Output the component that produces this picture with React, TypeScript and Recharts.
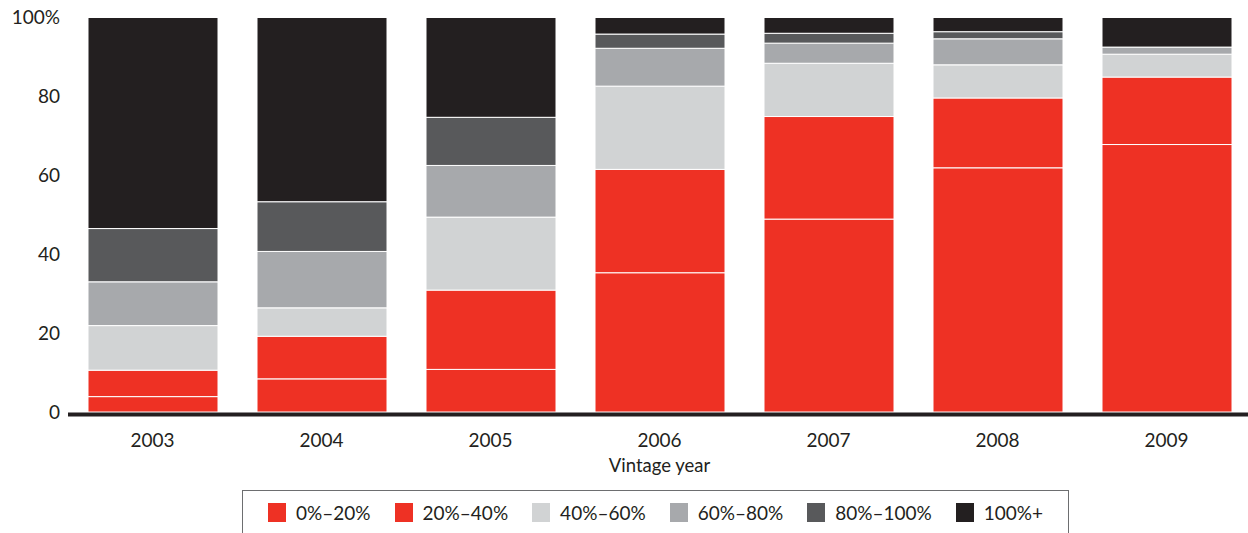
import React from 'react';
import { BarChart, Bar, XAxis, YAxis, Legend } from 'recharts';

const years = ['2003', '2004', '2005', '2006', '2007', '2008', '2009'];
const s0to20 = [3.9, 8.4, 10.8, 35.3, 48.9, 61.9, 67.8];
const s20to40 = [6.7, 10.8, 20.1, 26.2, 26.0, 17.7, 17.1];
const s40to60 = [11.3, 7.2, 18.5, 21.1, 13.5, 8.4, 5.8];
const s60to80 = [11.1, 14.3, 13.1, 9.6, 5.1, 6.6, 1.8];
const s80to100 = [13.5, 12.6, 12.2, 3.6, 2.5, 1.8, 0];
const s100plus = [53.5, 46.7, 25.3, 4.2, 4.0, 3.6, 7.5];
const yTicks = [0, 20, 40, 60, 80, 100];

const seriesNames = ['0%–20%', '20%–40%', '40%–60%', '60%–80%', '80%–100%', '100%+'];
const seriesKeys = ['a', 'b', 'c', 'd', 'e', 'f'];
const seriesColors = ['#ee3124', '#ee3124', '#d1d3d4', '#a7a9ac', '#58595b', '#231f20'];
const seriesValues = [s0to20, s20to40, s40to60, s60to80, s80to100, s100plus];

const data = years.map((y, i) => {
  const row: Record<string, string | number> = { year: y };
  seriesKeys.forEach((k, j) => {
    row[k] = seriesValues[j][i];
  });
  return row;
});

const FONT = 'Lato, "Open Sans", sans-serif';
const TEXT = '#231f20';

const LegendBox = () => (
  <div
    style={{
      boxSizing: 'border-box',
      width: 827,
      height: 50,
      border: '1.5px solid #6d6e70',
      display: 'flex',
      alignItems: 'flex-start',
      paddingLeft: 25,
      paddingTop: 12,
      fontFamily: FONT,
      fontSize: 19,
      color: TEXT,
    }}
  >
    {seriesNames.map((n, i) => (
      <div key={n} style={{ display: 'flex', alignItems: 'center', marginRight: 24 }}>
        <span
          style={{
            display: 'inline-block',
            width: 18,
            height: 19,
            background: seriesColors[i],
            marginRight: 10,
          }}
        />
        <span style={{ lineHeight: '19px' }}>{n}</span>
      </div>
    ))}
  </div>
);

export default function App() {
  return (
    <div
      style={{
        position: 'absolute',
        left: 0,
        top: 0,
        width: 1248,
        height: 533,
        overflow: 'hidden',
        background: '#fff',
      }}
    >
      <BarChart
        width={1251}
        height={533}
        data={data}
        margin={{ top: 17.5, right: 0, left: 0, bottom: 0 }}
        barSize={130}
      >
        <YAxis
          width={68}
          domain={[0, 100]}
          ticks={yTicks}
          axisLine={false}
          tickLine={false}
          tickSize={0}
          tickMargin={8}
          tickFormatter={(v: number) => (v === 100 ? '100%' : String(v))}
          tick={{ fontSize: 19, fill: TEXT, fontFamily: FONT }}
        />
        <XAxis
          dataKey="year"
          height={71}
          tickLine={false}
          tickSize={0}
          tickMargin={22}
          axisLine={{ stroke: '#231f20', strokeWidth: 4, transform: 'translate(0,2.5)' }}
          tick={{ fontSize: 19, fill: TEXT, fontFamily: FONT }}
          label={{
            value: 'Vintage year',
            position: 'insideBottom',
            offset: 11,
            style: { fontSize: 18.5, fill: TEXT, fontFamily: FONT },
          }}
        />
        <Legend
          verticalAlign="bottom"
          content={<LegendBox />}
          wrapperStyle={{ top: 490, left: 242, bottom: 'auto', width: 827, height: 50 }}
        />
        {seriesKeys.map((k, i) => (
          <Bar
            key={k}
            dataKey={k}
            name={seriesNames[i]}
            stackId="s"
            fill={seriesColors[i]}
            stroke="#ffffff"
            strokeWidth={1}
            isAnimationActive={false}
          />
        ))}
      </BarChart>
    </div>
  );
}
